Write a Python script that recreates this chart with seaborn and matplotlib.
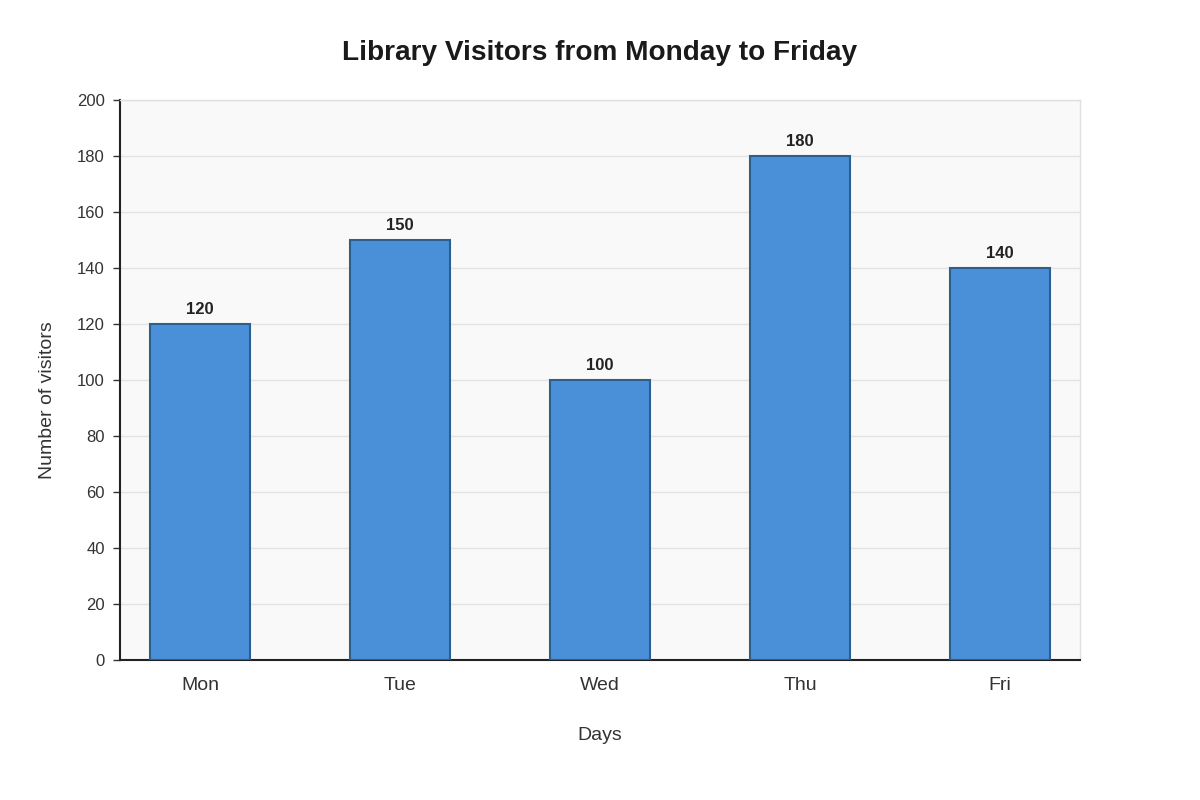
import seaborn as sns
import matplotlib.pyplot as plt
import pandas as pd

days = ['Mon', 'Tue', 'Wed', 'Thu', 'Fri']
visitors = [120, 150, 100, 180, 140]

sns.set_style('white')
plt.rcParams['font.family'] = ['Liberation Sans', 'DejaVu Sans']

df = pd.DataFrame({'Days': days, 'Visitors': visitors})

fig = plt.figure(figsize=(12, 8), dpi=100)
ax = fig.add_axes([0.1, 0.175, 0.8, 0.7])
ax.set_facecolor('#f9f9f9')

sns.barplot(data=df, x='Days', y='Visitors', ax=ax, color='#4a90d9',
            saturation=1, width=0.5, edgecolor='#2c5f8a', linewidth=1.5,
            zorder=3)

for i, v in enumerate(visitors):
    ax.text(i, v + 2.5, str(v), ha='center', va='bottom', fontsize=12,
            fontweight='bold', color='#222222', zorder=4)

ax.set_xlim(-0.4, 4.4)
ax.set_ylim(0, 200)
ax.set_yticks(range(0, 201, 20))
ax.yaxis.grid(True, color='#e3e3e3', linewidth=1, zorder=0)
ax.set_axisbelow(True)

for s in ['left', 'bottom']:
    ax.spines[s].set_color('#222222')
    ax.spines[s].set_linewidth(1.5)
for s in ['top', 'right']:
    ax.spines[s].set_color('#e0e0e0')
    ax.spines[s].set_linewidth(1)

ax.tick_params(axis='y', labelsize=12, colors='#333333', length=5, width=1,
               pad=6, left=True, labelcolor='#333333')
ax.tick_params(axis='x', labelsize=14, length=0, pad=12, labelcolor='#333333')

ax.set_xlabel('Days', fontsize=14, color='#333333', labelpad=24)
ax.set_ylabel('Number of visitors', fontsize=14, color='#333333')
ax.yaxis.set_label_coords(-0.0665, 0.464)
ax.set_title('Library Visitors from Monday to Friday', fontsize=20.2,
             fontweight='bold', color='#1a1a1a', pad=28.5)

fig.savefig('out.png', dpi=100)
